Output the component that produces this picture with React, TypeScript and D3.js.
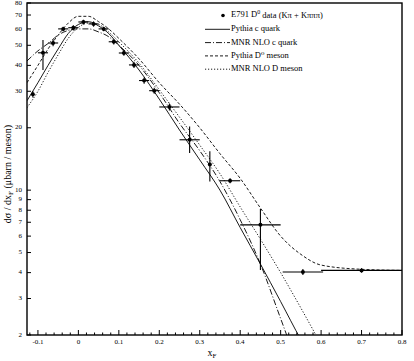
import React from "react";
import * as d3 from "d3";

// E791 D0 data points: bin centre, half width, value, lower and upper error edge
const dataX = [-0.1125, -0.0875, -0.0625, -0.0375, -0.0125, 0.0125, 0.0375, 0.0625, 0.0875, 0.1125, 0.1375, 0.1625, 0.1875, 0.225, 0.275, 0.325, 0.375, 0.45, 0.555, 0.7];
const dataXErr = [0, 0.0125, 0.0125, 0.0125, 0.0125, 0.0125, 0.0125, 0.0125, 0.0125, 0.0125, 0.0125, 0.0125, 0.0125, 0.025, 0.025, 0, 0.025, 0.05, 0.05, 0.1];
const dataY = [29, 46, 51.3, 60, 60.8, 64.8, 63.4, 60, 52, 45.9, 40.2, 33.8, 30.2, 25.2, 17.5, 13.3, 11.1, 6.8, 4.03, 4.1];
const dataYLo = [28, 38, 49.5, 58.5, 59, 63, 61.5, 58.5, 50.5, 44.5, 38.8, 32.6, 29.2, 24.2, 15.1, 11.0, 10.8, 4.12, 3.9, 4.0];
const dataYHi = [30, 53, 53.4, 61.5, 62.5, 66.5, 65.2, 61.5, 53.5, 47.3, 41.6, 35, 31.2, 26.2, 20.3, 15.4, 11.4, 8.1, 4.16, 4.2];

// theory curves
const pythiaQuarkX = [-0.127, -0.1, -0.075, -0.05, -0.025, 0, 0.025, 0.05, 0.075, 0.1, 0.15, 0.2, 0.25, 0.3, 0.35, 0.4, 0.45, 0.5, 0.55, 0.6];
const pythiaQuarkY = [27, 33, 40, 48, 57, 63, 65, 62, 57, 50, 38, 27.5, 19.5, 14, 10, 6.6, 4.4, 2.9, 1.9, 1.3];
const mnrQuarkX = [-0.127, -0.1, -0.075, -0.05, -0.025, 0, 0.025, 0.05, 0.075, 0.1, 0.15, 0.2, 0.25, 0.3, 0.35, 0.4, 0.45, 0.5, 0.55];
const mnrQuarkY = [42, 47, 51, 56, 59, 60, 60, 58, 55, 50, 40, 29.5, 21, 15.5, 11, 7.2, 4.4, 2.4, 1.3];
const pythiaMesonX = [-0.127, -0.1, -0.075, -0.05, -0.025, 0, 0.025, 0.05, 0.075, 0.1, 0.15, 0.2, 0.25, 0.3, 0.35, 0.4, 0.45, 0.5, 0.55, 0.6, 0.7, 0.8];
const pythiaMesonY = [33, 40, 48, 56, 64, 69, 69, 65, 60, 54, 43, 33, 26, 20, 15, 11.4, 8.2, 6.0, 4.9, 4.35, 4.15, 4.1];
const mnrMesonX = [-0.127, -0.1, -0.075, -0.05, -0.025, 0, 0.025, 0.05, 0.075, 0.1, 0.15, 0.2, 0.25, 0.3, 0.35, 0.4, 0.45, 0.5, 0.55, 0.6];
const mnrMesonY = [25, 30, 37, 45, 54, 61, 64, 63, 58, 52, 41, 30.5, 22.5, 16.5, 12, 8.3, 5.8, 4.0, 2.7, 1.8];

const xTicks = [-0.1, 0, 0.1, 0.2, 0.3, 0.4, 0.5, 0.6, 0.7, 0.8];
const xTickLabels = ["-0.1", "0", "0.1", "0.2", "0.3", "0.4", "0.5", "0.6", "0.7", "0.8"];
const yTicks = [2, 3, 4, 5, 6, 7, 8, 9, 10, 20, 30, 40, 50, 60, 70, 80];

const curves = [
  { name: "Pythia c quark", xs: pythiaQuarkX, ys: pythiaQuarkY, dash: "none" },
  { name: "MNR NLO c quark", xs: mnrQuarkX, ys: mnrQuarkY, dash: "6,2,1,2" },
  { name: "Pythia D⁰ meson", xs: pythiaMesonX, ys: pythiaMesonY, dash: "3,2" },
  { name: "MNR NLO D meson", xs: mnrMesonX, ys: mnrMesonY, dash: "1.2,1.8" },
];

const W = 414;
const H = 361;
const left = 27, right = 402, top = 3, bottom = 335;
const font = "'Liberation Serif', 'DejaVu Serif', serif";

export default function App() {
  const x = d3.scaleLinear().domain([-0.127, 0.8]).range([left, right]);
  const y = d3.scaleLog().domain([2, 80]).range([bottom, top]);

  const line = d3
    .line<[number, number]>()
    .x((d) => x(d[0]))
    .y((d) => y(d[1]))
    .curve(d3.curveMonotoneX);

  const minorX = d3.range(-0.12, 0.801, 0.02).filter((v) => Math.abs(Math.round(v * 10) - v * 10) > 0.01);

  return (
    <svg width={W} height={H} style={{ position: "absolute", left: 0, top: 0, background: "#fff" }} fontFamily={font}>
      <defs>
        <clipPath id="plot">
          <rect x={left} y={top} width={right - left} height={bottom - top} />
        </clipPath>
      </defs>

      {/* curves */}
      <g clipPath="url(#plot)" fill="none" stroke="#000" strokeWidth={0.9}>
        {curves.map((c) => (
          <path
            key={c.name}
            d={line(c.xs.map((v, i) => [v, c.ys[i]] as [number, number])) || ""}
            strokeDasharray={c.dash}
          />
        ))}
      </g>

      {/* data */}
      <g stroke="#000" strokeWidth={1.1}>
        {dataX.map((v, i) => (
          <g key={i}>
            {dataXErr[i] > 0 && (
              <line x1={x(v - dataXErr[i])} x2={x(v + dataXErr[i])} y1={y(dataY[i])} y2={y(dataY[i])} />
            )}
            <line x1={x(v)} x2={x(v)} y1={y(dataYLo[i])} y2={y(dataYHi[i])} />
            <circle cx={x(v)} cy={y(dataY[i])} r={2} fill="#000" stroke="none" />
          </g>
        ))}
      </g>

      {/* frame */}
      <rect x={left} y={top} width={right - left} height={bottom - top} fill="none" stroke="#000" strokeWidth={1.4} />

      {/* x ticks */}
      <g stroke="#000" strokeWidth={1}>
        {xTicks.map((t) => (
          <line key={t} x1={x(t)} x2={x(t)} y1={bottom} y2={bottom - 5} />
        ))}
        {minorX.map((t) => (
          <line key={"m" + t} x1={x(t)} x2={x(t)} y1={bottom} y2={bottom - 2.5} />
        ))}
        {yTicks.map((t) => (
          <line key={"y" + t} x1={left} x2={left + 4} y1={y(t)} y2={y(t)} />
        ))}
      </g>
      <g fontSize={7} fill="#000">
        {xTicks.map((t, i) => (
          <text key={t} x={x(t)} y={344} textAnchor="middle">
            {xTickLabels[i]}
          </text>
        ))}
        {yTicks.map((t) => (
          <text key={t} x={22} y={y(t)} textAnchor="end" dominantBaseline="middle">
            {t}
          </text>
        ))}
      </g>

      {/* axis titles */}
      <text x={212} y={356} fontSize={10} textAnchor="middle">
        x<tspan fontSize={7} dy={2}>F</tspan>
      </text>
      <text transform="translate(11,174) rotate(-90)" fontSize={10} textAnchor="middle">
        dσ / dx<tspan fontSize={7} dy={2}>F</tspan>
        <tspan dy={-2}>{"  (μbarn / meson)"}</tspan>
      </text>

      {/* legend */}
      <g fontSize={8.5}>
        <circle cx={223} cy={15.5} r={1.8} fill="#000" />
        <text x={231} y={15.5} dominantBaseline="middle">
          E791 D<tspan fontSize={6} dy={-3}>0</tspan>
          <tspan dy={3}> data (Kπ + Kπππ)</tspan>
        </text>
        {curves.map((c, i) => (
          <g key={c.name}>
            <line x1={205} x2={230} y1={29.3 + i * 13.3} y2={29.3 + i * 13.3} stroke="#000" strokeWidth={0.9} strokeDasharray={c.dash} />
            <text x={231} y={29.3 + i * 13.3} dominantBaseline="middle">
              {c.name}
            </text>
          </g>
        ))}
      </g>
    </svg>
  );
}
